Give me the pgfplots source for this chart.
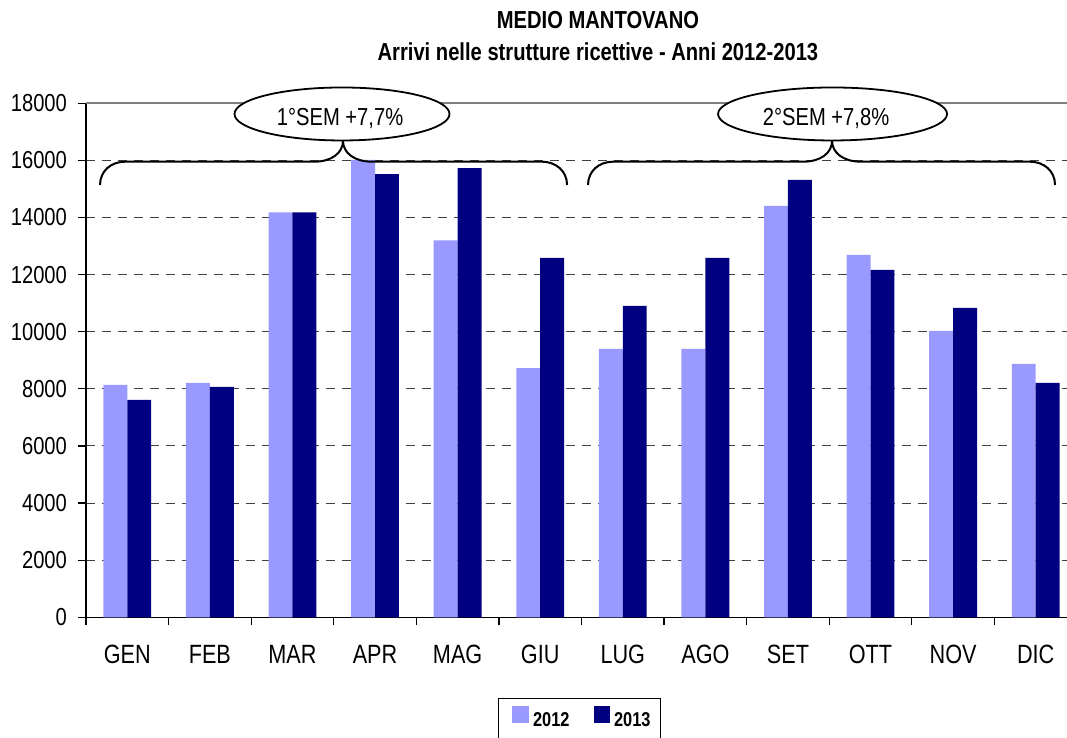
\documentclass[border=0pt]{standalone}
\usepackage{fontspec}
\setmainfont{Liberation Sans}[FakeStretch=0.82]
\usepackage{pgfplots}
\pgfplotsset{compat=1.18}
\definecolor{c2012}{HTML}{9999FF}
\definecolor{c2013}{HTML}{000080}
\begin{document}
\begin{tikzpicture}
\begin{axis}[
  at={(0,0)}, anchor=south west,
  scale only axis, width=495.5pt, height=257pt,
  xmin=-0.5, xmax=11.5, ymin=0, ymax=18000,
  clip=false,
  axis x line*=bottom, axis y line*=left,
  axis line style={black, line width=0.6pt},
  xtick={-0.5,0.5,...,11.5}, xticklabels={},
  extra x ticks={0,1,2,3,4,5,6,7,8,9,10,11},
  extra x tick labels={GEN,FEB,MAR,APR,MAG,GIU,LUG,AGO,SET,OTT,NOV,DIC},
  extra x tick style={major tick length=0pt, xticklabel style={yshift=-10.5pt, font=\fontsize{13.2}{15}\selectfont}},
  ytick={0,2000,...,16000},
  extra y ticks={18000},
  extra y tick style={major grid style={solid, draw=black!50, line width=0.9pt}},
  scaled y ticks=false,
  yticklabel style={/pgf/number format/1000 sep={}, xshift=-2pt},
  /pgf/number format/assume math mode=true,
  ticklabel style={font=\fontsize{12.3}{14}\selectfont},
  ymajorgrids,
  major grid style={dash pattern=on 4.5pt off 3.5pt, draw=black!75, line width=0.5pt},
  tick align=outside, major tick length=4pt,
  tick style={black, line width=0.6pt},
  legend columns=2,
  legend cell align=left,
  legend style={at={(rel axis cs:0.498,-0.157)}, anchor=north, draw=black, line width=0.5pt,
    font=\bfseries\fontsize{10}{12}\selectfont, inner xsep=3pt, inner ysep=4pt,
    /tikz/every even column/.append style={column sep=10pt}},
]
\addplot[ybar, bar width=0.29, bar shift=-0.145, fill=c2012, draw=none,
  legend image code/.code={\path (-4pt,0pt); \fill[c2012] (0pt,-1.2pt) rectangle (8.3pt,7.1pt);}]
  coordinates {(0,8135) (1,8205) (2,14183) (3,16015) (4,13200) (5,8730) (6,9396) (7,9396) (8,14404) (9,12688) (10,10026) (11,8871)};
\addlegendentry{2012}
\addplot[ybar, bar width=0.29, bar shift=0.145, fill=c2013, draw=none,
  legend image code/.code={\fill[c2013] (0pt,-1.2pt) rectangle (8.3pt,7.1pt);}]
  coordinates {(0,7610) (1,8065) (2,14183) (3,15524) (4,15734) (5,12583) (6,10902) (7,12583) (8,15314) (9,12163) (10,10832) (11,8205)};
\addlegendentry{2013}
% titles
\node[font=\bfseries\fontsize{12.3}{14}\selectfont] at (rel axis cs:0.5166,1.162) {MEDIO MANTOVANO};
\node[font=\bfseries\fontsize{12.3}{14}\selectfont] at (rel axis cs:0.5166,1.0998) {Arrivi nelle strutture ricettive - Anni 2012-2013};
% braces
\draw[line width=1pt] (axis cs:-0.330,15139) .. controls (axis cs:-0.330,15629) and (axis cs:-0.197,15955) .. (axis cs:-0.0277,15955)
  -- (axis cs:2.261,15955) .. controls (axis cs:2.479,15955) and (axis cs:2.612,16270) .. (axis cs:2.612,16690)
  .. controls (axis cs:2.612,16270) and (axis cs:2.745,15955) .. (axis cs:2.963,15955)
  -- (axis cs:5.022,15955) .. controls (axis cs:5.19,15955) and (axis cs:5.325,15629) .. (axis cs:5.325,15139);
\draw[line width=1pt] (axis cs:5.579,15139) .. controls (axis cs:5.579,15629) and (axis cs:5.712,15955) .. (axis cs:5.882,15955)
  -- (axis cs:8.183,15955) .. controls (axis cs:8.401,15955) and (axis cs:8.534,16270) .. (axis cs:8.534,16690)
  .. controls (axis cs:8.534,16270) and (axis cs:8.667,15955) .. (axis cs:8.885,15955)
  -- (axis cs:10.931,15955) .. controls (axis cs:11.10,15955) and (axis cs:11.234,15629) .. (axis cs:11.234,15139);
% ellipses
\draw[line width=0.9pt, fill=white] (axis cs:2.60,17626) ellipse [x radius=53.75pt, y radius=13.25pt];
\draw[line width=0.9pt, fill=white] (axis cs:8.54,17626) ellipse [x radius=57.25pt, y radius=13.25pt];
\node[anchor=base, font=\fontsize{12.3}{14}\selectfont, inner sep=0pt] at (axis cs:2.576,17240) {1°SEM +7,7\%};
\node[anchor=base, font=\fontsize{12.3}{14}\selectfont, inner sep=0pt] at (axis cs:8.461,17240) {2°SEM +7,8\%};
\end{axis}
\pgfresetboundingbox
\path[use as bounding box] (-43pt,-60.35pt) rectangle (490.5pt,308.65pt);
\end{tikzpicture}
\end{document}
